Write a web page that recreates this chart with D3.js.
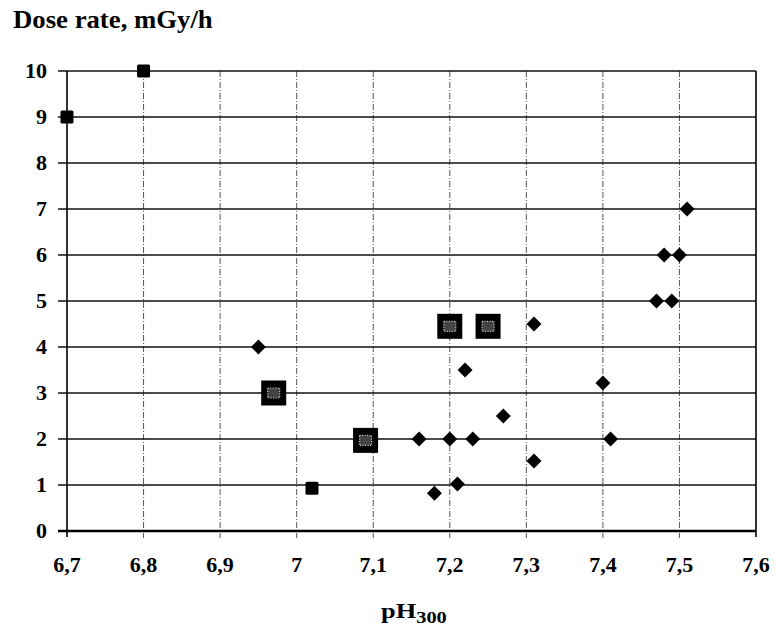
<!DOCTYPE html>
<html>
<head>
<meta charset="utf-8">
<script src="https://d3js.org/d3.v7.min.js"></script>
<style>
  body { margin: 0; background: #fff; overflow: hidden; }
  svg text { font-family: "Liberation Serif", "Times New Roman", serif; font-weight: bold; fill: #000; }
</style>
</head>
<body>
<div id="chart"></div>
<script>
// data
var diamondX = [6.95, 7.16, 7.20, 7.23, 7.18, 7.21, 7.22, 7.27, 7.31, 7.31, 7.40, 7.41, 7.47, 7.49, 7.48, 7.50, 7.51];
var diamondY = [4.0, 2.0, 2.0, 2.0, 0.82, 1.02, 3.5, 2.5, 4.5, 1.52, 3.22, 2.0, 5.0, 5.0, 6.0, 6.0, 7.0];
var smallSqX = [6.70, 6.80, 7.02];
var smallSqY = [9.0, 10.0, 0.93];
var bigSqX = [6.97, 7.09, 7.20, 7.25];
var bigSqY = [3.0, 1.97, 4.45, 4.45];
var xTicks = [6.7, 6.8, 6.9, 7.0, 7.1, 7.2, 7.3, 7.4, 7.5, 7.6];
var yTicks = [0, 1, 2, 3, 4, 5, 6, 7, 8, 9, 10];

var width = 777, height = 629;
var margin = { left: 67, right: 21, top: 71, bottom: 98 };

var svg = d3.select("#chart").append("svg")
    .attr("width", width).attr("height", height);

var x = d3.scaleLinear().domain([6.7, 7.6]).range([margin.left, width - margin.right]);
var y = d3.scaleLinear().domain([0, 10]).range([height - margin.bottom, margin.top]);

var fmt = d => (Math.round(d * 10) / 10).toString().replace(".", ",");

// vertical dashed gridlines
svg.append("g").selectAll("line")
    .data(xTicks.slice(1, -1))
    .join("line")
    .attr("x1", d => x(d)).attr("x2", d => x(d))
    .attr("y1", y(10)).attr("y2", y(0) + 7)
    .attr("stroke", "#555").attr("stroke-width", 1)
    .attr("stroke-dasharray", "6,2,1,2");

// horizontal gridlines
svg.append("g").selectAll("line")
    .data(yTicks.slice(1))
    .join("line")
    .attr("x1", x(6.7) - 9).attr("x2", x(7.6))
    .attr("y1", d => y(d)).attr("y2", d => y(d))
    .attr("stroke", "#111").attr("stroke-width", 1.4);

// frame
svg.append("line").attr("x1", x(6.7)).attr("x2", x(6.7))
    .attr("y1", y(10)).attr("y2", y(0) + 6)
    .attr("stroke", "#000").attr("stroke-width", 1.6);
svg.append("line").attr("x1", x(7.6)).attr("x2", x(7.6))
    .attr("y1", y(10)).attr("y2", y(0) + 6)
    .attr("stroke", "#000").attr("stroke-width", 1.6);
svg.append("line").attr("x1", x(6.7) - 9).attr("x2", x(7.6))
    .attr("y1", y(0)).attr("y2", y(0))
    .attr("stroke", "#000").attr("stroke-width", 2.4);

// tick labels (printed face is a bit wider than Times, so stretch a little)
svg.append("g").selectAll("text")
    .data(yTicks)
    .join("text")
    .attr("transform", d => `translate(47,${y(d) + 7}) scale(1.1,1)`)
    .attr("text-anchor", "end")
    .style("font-size", "20px")
    .text(d => d);

svg.append("g").selectAll("text")
    .data(xTicks)
    .join("text")
    .attr("transform", d => `translate(${x(d)},572) scale(1.1,1)`)
    .attr("text-anchor", "middle")
    .style("font-size", "20px")
    .text(fmt);

// titles
svg.append("text")
    .attr("transform", "translate(13,28) scale(1.07,1)")
    .style("font-size", "25px")
    .text("Dose rate, mGy/h");

var xt = svg.append("text")
    .attr("transform", "translate(381,618) scale(1.2,1)")
    .style("font-size", "22px");
xt.append("tspan").text("pH");
xt.append("tspan").attr("dy", 5).style("font-size", "17px").text("300");

// diamonds
svg.append("g").selectAll("path")
    .data(diamondX.map((d, i) => [d, diamondY[i]]))
    .join("path")
    .attr("transform", d => `translate(${x(d[0])},${y(d[1])})`)
    .attr("d", "M0,-7.5L7.5,0L0,7.5L-7.5,0Z")
    .attr("fill", "#000");

// small squares
svg.append("g").selectAll("rect")
    .data(smallSqX.map((d, i) => [d, smallSqY[i]]))
    .join("rect")
    .attr("x", d => x(d[0]) - 6.5).attr("y", d => y(d[1]) - 6.5)
    .attr("width", 13).attr("height", 13)
    .attr("rx", 1.5)
    .attr("fill", "#000");

// big squares with dotted centre
var big = svg.append("g").selectAll("g")
    .data(bigSqX.map((d, i) => [d, bigSqY[i]]))
    .join("g")
    .attr("transform", d => `translate(${x(d[0])},${y(d[1])})`);
big.append("rect")
    .attr("x", -12.5).attr("y", -12.5)
    .attr("width", 25).attr("height", 25)
    .attr("fill", "#000");
big.append("rect")
    .attr("x", -6).attr("y", -5)
    .attr("width", 12).attr("height", 10)
    .attr("fill", "#444")
    .attr("stroke", "#ddd").attr("stroke-width", 1.2)
    .attr("stroke-dasharray", "1,1.5");
</script>
</body>
</html>
